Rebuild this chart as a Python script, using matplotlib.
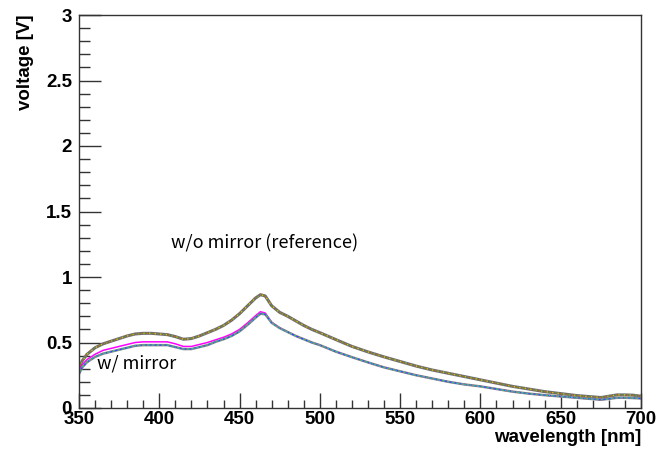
import numpy as np
import matplotlib
matplotlib.use('Agg')
import matplotlib.pyplot as plt
from matplotlib.ticker import MultipleLocator

# wavelength points [nm]
wl = [350, 352, 355, 360, 365, 370, 375, 380, 385, 390, 395, 400, 405, 410, 415, 420,
      425, 430, 435, 440, 445, 450, 455, 460, 463, 466, 470, 475, 480, 485, 490, 495,
      500, 510, 520, 530, 540, 550, 560, 570, 580, 590, 600, 610, 620, 630, 640, 650,
      660, 670, 675, 680, 685, 690, 695, 700]

# w/o mirror (reference) [V]
v_ref = [0.30, 0.36, 0.41, 0.46, 0.49, 0.51, 0.53, 0.55, 0.565, 0.57, 0.57, 0.565, 0.56, 0.545, 0.525, 0.53,
         0.55, 0.575, 0.60, 0.63, 0.67, 0.72, 0.78, 0.84, 0.865, 0.855, 0.78, 0.73, 0.70, 0.665, 0.63, 0.60,
         0.575, 0.522, 0.47, 0.428, 0.39, 0.355, 0.32, 0.29, 0.265, 0.24, 0.215, 0.19, 0.165, 0.145, 0.125, 0.11,
         0.095, 0.085, 0.08, 0.09, 0.10, 0.10, 0.098, 0.09]

# w/ mirror, magenta run [V]
v_mir_mag = [0.28, 0.33, 0.37, 0.41, 0.44, 0.455, 0.47, 0.485, 0.50, 0.505, 0.505, 0.505, 0.505, 0.49, 0.47, 0.47,
             0.485, 0.50, 0.52, 0.54, 0.565, 0.60, 0.65, 0.705, 0.735, 0.725, 0.655, 0.612, 0.58, 0.55, 0.525, 0.50,
             0.48, 0.43, 0.388, 0.348, 0.31, 0.28, 0.25, 0.225, 0.20, 0.18, 0.165, 0.145, 0.125, 0.11, 0.098, 0.088,
             0.078, 0.068, 0.063, 0.07, 0.078, 0.078, 0.076, 0.073]

# w/ mirror, other runs [V]
v_mir = [0.26, 0.31, 0.35, 0.39, 0.415, 0.43, 0.445, 0.46, 0.475, 0.48, 0.48, 0.48, 0.48, 0.465, 0.45, 0.45,
         0.465, 0.48, 0.505, 0.525, 0.55, 0.585, 0.635, 0.69, 0.72, 0.715, 0.65, 0.61, 0.58, 0.55, 0.525, 0.50,
         0.48, 0.43, 0.388, 0.348, 0.31, 0.28, 0.25, 0.225, 0.20, 0.18, 0.165, 0.145, 0.125, 0.11, 0.098, 0.088,
         0.078, 0.068, 0.063, 0.07, 0.078, 0.078, 0.076, 0.073]

fig = plt.figure(figsize=(6.57, 4.5), dpi=100)
ax = fig.add_axes([79/657, 1-408/450, (641-79)/657, (408-15)/450])

# reference group (several overlapping runs)
ax.plot(wl, v_ref, color='#6e6e6e', lw=2.2)
ax.plot(wl, v_ref, color='#e0c000', lw=1.0, ls=(0, (1, 3)))
ax.plot(wl, v_ref, color='#e07000', lw=0.8, ls=(2, (1, 4)))
ax.plot(wl, v_ref, color='#40a040', lw=0.8, ls=(1, (1, 5)))

# mirror group, magenta underneath
ax.plot(wl, v_mir_mag, color='#ff00ff', lw=1.1)
ax.plot(wl, v_mir, color='#8a8a8a', lw=1.8)
ax.plot(wl, v_mir, color='#4040ff', lw=0.9, ls=(0, (2, 2)))
ax.plot(wl, v_mir, color='#00d0d0', lw=0.8, ls=(1, (1, 3)))
ax.plot(wl, v_mir, color='#40c040', lw=0.8, ls=(2, (1, 4)))

ax.set_xlim(350, 700)
ax.set_ylim(0, 3)

ax.xaxis.set_major_locator(MultipleLocator(50))
ax.xaxis.set_minor_locator(MultipleLocator(10))
ax.yaxis.set_minor_locator(MultipleLocator(0.1))
ax.set_yticks([0, 0.5, 1, 1.5, 2, 2.5, 3])
ax.set_yticklabels(['0', '0.5', '1', '1.5', '2', '2.5', '3'])

ax.tick_params(which='both', direction='in', top=False, right=False, color='#333333')
ax.tick_params(axis='y', which='major', length=16, width=1)
ax.tick_params(axis='y', which='minor', length=8, width=1)
ax.tick_params(axis='x', which='major', length=11, width=1)
ax.tick_params(axis='x', which='minor', length=5.5, width=1)
ax.tick_params(axis='x', pad=2)
ax.tick_params(axis='y', pad=5)
for lab in ax.get_xticklabels() + ax.get_yticklabels():
    lab.set_fontfamily('Liberation Sans')
    lab.set_fontweight('bold')
    lab.set_fontsize(13.5)
for s in ax.spines.values():
    s.set_color('#333333')
    s.set_linewidth(1)

fig.text(641/657, 1-437/450, 'wavelength [nm]', ha='right', va='center',
         fontfamily='Liberation Sans', fontweight='bold', fontsize=13.5)
fig.text(25/657, 1-15/450, 'voltage [V]', ha='center', va='top', rotation=90,
         fontfamily='Liberation Sans', fontweight='bold', fontsize=13.5)

ax.text(407, 1.26, 'w/o mirror (reference)', ha='left', va='center',
        fontfamily='Noto Sans CJK JP', fontsize=13)
ax.text(361.2, 0.336, 'w/ mirror', ha='left', va='center',
        fontfamily='Noto Sans CJK JP', fontsize=13)

plt.savefig('out.png', dpi=100)
